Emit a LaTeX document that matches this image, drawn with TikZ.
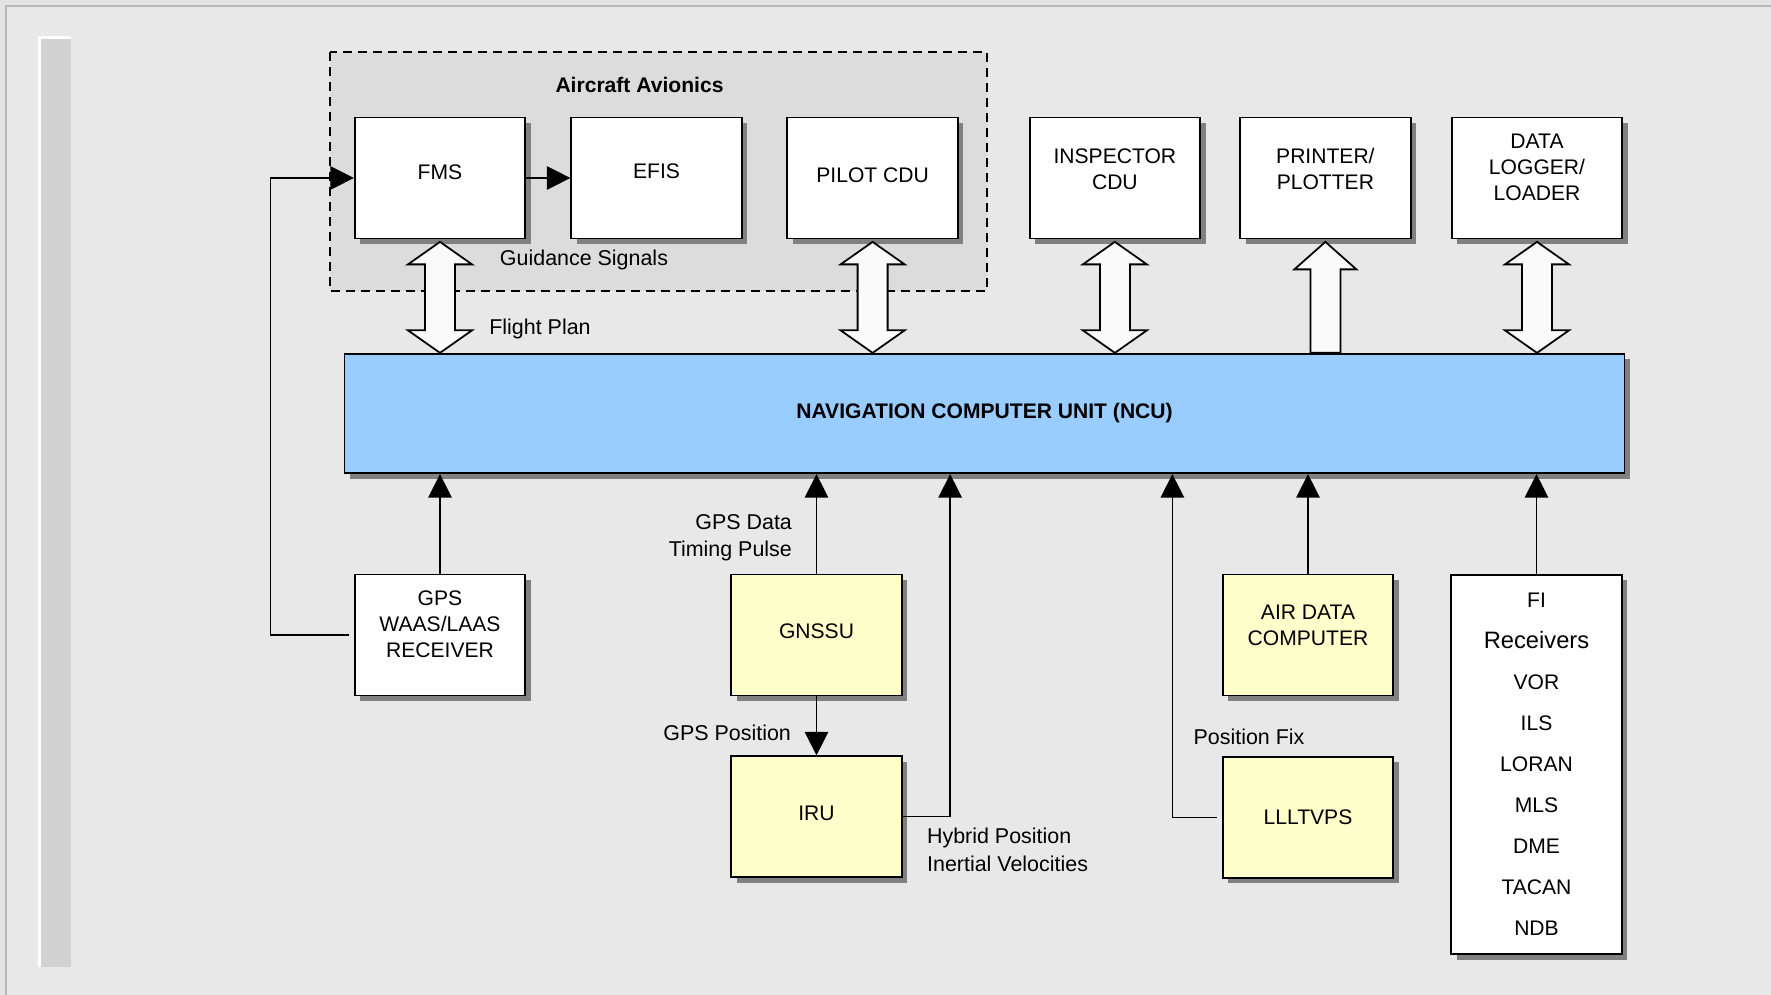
\documentclass[tikz,border=0pt]{standalone}
\usepackage{fontspec}
\setmainfont{Liberation Sans}
\usepackage{tikz}
\usetikzlibrary{arrows.meta,positioning,calc,shadows,backgrounds}
\definecolor{ncuBlue}{HTML}{99CCFF}
\definecolor{unitYellow}{HTML}{FFFFCC}
\definecolor{panelGray}{HTML}{E8E8E8}
\definecolor{groupGray}{HTML}{DCDCDC}
\definecolor{shadowGray}{HTML}{808080}
\tikzset{
  unit/.style={draw,line width=1pt,fill=white,minimum width=3.41cm,minimum height=2.42cm,
               font=\fontsize{12}{14.7}\selectfont,align=center,inner sep=2pt,
               drop shadow={shadow xshift=0.11cm,shadow yshift=-0.11cm,fill=shadowGray,opacity=1}},
  sensor/.style={unit,fill=unitYellow},
  lift/.style={text depth=#1},
  lbl/.style={font=\fontsize{12.2}{14}\selectfont,inner sep=1pt},
  arr/.style={-{Triangle[length=0.47cm,width=0.47cm]},line width=0.8pt},
  fatarr/.style={draw,line width=1pt,fill=gray!4,line join=miter},
}
% fat arrows between a box above (#1) and a box below (#2)
\newcommand{\fatboth}[2]{%
  \coordinate (ta) at ($(#1.south)+(0,-0.05)$);
  \coordinate (tb) at (ta |- #2.north);
  \draw[fatarr] (ta) -- ++(0.64,-0.45) -- ++(-0.34,0) -- ($(tb)+(0.3,0.45)$)
    -- ++(0.34,0) -- (tb) -- ++(-0.64,0.45) -- ++(0.34,0)
    -- ($(ta)+(-0.3,-0.45)$) -- ++(-0.34,0) -- cycle;}
\newcommand{\fatup}[2]{%
  \coordinate (ta) at ($(#1.south)+(0,-0.05)$);
  \coordinate (tb) at (ta |- #2.north);
  \draw[fatarr] ($(tb)+(0.3,0)$) -- ($(ta)+(0.3,-0.55)$) -- ++(0.32,0) -- (ta)
    -- ++(-0.62,-0.55) -- ++(0.32,0) -- ($(tb)+(-0.3,0)$) -- cycle;}

\begin{document}
\begin{tikzpicture}
  \useasboundingbox (0,0) rectangle (35.42,-19.90);

  % top row
  \node[unit,lift=0.25cm] (fms) at (8.80,-3.56) {FMS};
  \node[unit,lift=0.29cm,right=0.885cm of fms] (efis) {EFIS};
  \node[unit,lift=0.11cm,right=0.877cm of efis] (pilot) {PILOT CDU};
  \node[unit,lift=0.36cm,right=1.40cm of pilot] (insp) {INSPECTOR\\CDU};
  \node[unit,lift=0.36cm,right=0.765cm of insp] (printer) {PRINTER/\\PLOTTER};
  \node[unit,lift=0.43cm,right=0.787cm of printer] (logger) {DATA\\LOGGER/\\LOADER};
  \node[font=\fontsize{12}{14}\selectfont\bfseries] (avionics) at (12.79,-1.69) {Aircraft Avionics};

  % computer unit
  \node[unit,fill=ncuBlue,minimum width=25.6cm,minimum height=2.39cm,
        font=\fontsize{12}{14}\selectfont\bfseries] (ncu) at (19.69,-8.27)
    {NAVIGATION COMPUTER UNIT (NCU)};

  % sensors
  \node[unit,lift=0.43cm] (gps) at (8.80,-12.70) {GPS\\WAAS/LAAS\\RECEIVER};
  \node[sensor,lift=0.14cm] (gnssu) at (16.33,-12.70) {GNSSU};
  \node[sensor,lift=0.14cm,below=1.18cm of gnssu] (iru) {IRU};
  \node[sensor,lift=0.38cm] (adc) at (26.16,-12.70) {AIR DATA\\COMPUTER};
  \node[sensor,below=1.19cm of adc] (lll) {LLLTVPS};
  \node[unit,minimum height=7.59cm,font=\fontsize{12}{23.3}\selectfont] (fi) at (30.73,-15.29)
    {FI\\{\fontsize{13.5}{23.3}\selectfont Receivers}\\VOR\\ILS\\LORAN\\MLS\\DME\\TACAN\\NDB};

  % labels
  \node[lbl] (guid) at (11.68,-5.20) {Guidance Signals};
  \node[lbl] (plan) at (10.80,-6.57) {Flight Plan};
  \node[lbl,anchor=east] (gpsdata) at (15.88,-10.44) {GPS Data};
  \node[lbl,anchor=east] (timing) at (15.88,-11.02) {Timing Pulse};
  \node[lbl,anchor=east] (gpspos) at (15.86,-14.66) {GPS Position};
  \node[lbl,anchor=west] (hybrid) at (18.50,-16.76) {Hybrid Position};
  \node[lbl,anchor=west] (inertial) at (18.50,-17.28) {Inertial Velocities};
  \node[lbl,anchor=west] (posfix) at (23.83,-14.73) {Position Fix};

  % fat arrows
  \fatboth{fms}{ncu}
  \fatboth{pilot}{ncu}
  \fatboth{insp}{ncu}
  \fatup{printer}{ncu}
  \fatboth{logger}{ncu}

  % signal lines
  \draw[arr] (fms) -- (efis);
  \draw[arr,shorten <=0.09cm] (gps.west) -- ++(-1.67,0) |- (fms.west);
  \draw[arr] (gps) -- (gps |- ncu.south);
  \draw[arr] (gnssu) -- (gnssu |- ncu.south);
  \draw[arr] (gnssu) -- (iru);
  \coordinate (hyb) at ($(iru.east)+(0.95,0)$);
  \draw[arr] (iru.east) -- (hyb) -- (hyb |- ncu.south);
  \draw[arr] (adc) -- (adc |- ncu.south);
  \coordinate (fix) at ($(lll.west)+(-0.99,0)$);
  \draw[arr,shorten <=0.09cm] (lll.west) -- (fix) -- (fix |- ncu.south);
  \draw[arr] (fi) -- (fi |- ncu.south);

  \begin{scope}[on background layer]
    \fill[gray!22] (0,0) rectangle (35.42,-19.90);
    \filldraw[fill=panelGray,draw=gray!55,line width=1pt] (0.12,-0.12) rectangle (35.6,-20.1);
    \fill[gray!35] (0.79,-0.75) rectangle (1.42,-19.34);
    \draw[white,line width=1.5pt] (0.79,-19.34) |- (1.42,-0.75);
    \filldraw[fill=groupGray,draw=black,line width=1pt,dash pattern=on 0.18cm off 0.12cm]
      ($(fms.north west)+(-0.47,1.29)$) rectangle ($(pilot.south east)+(0.56,-1.04)$);
  \end{scope}
\end{tikzpicture}
\end{document}
